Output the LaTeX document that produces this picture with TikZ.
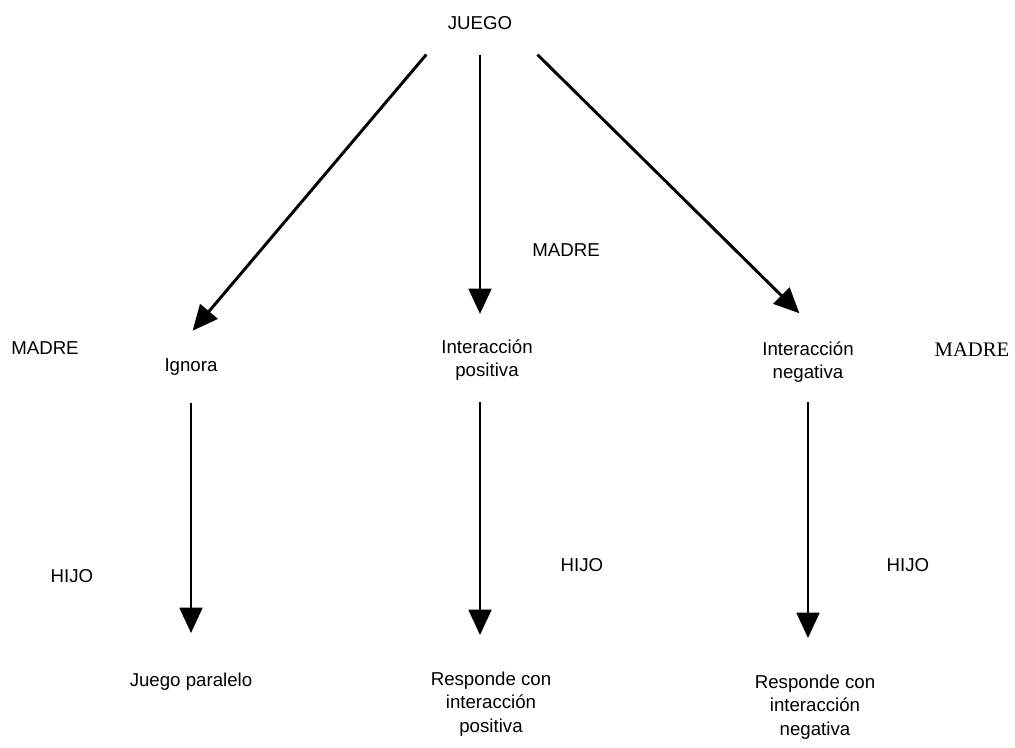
\documentclass[tikz,border=0pt]{standalone}
\usepackage{fontspec}
\setmainfont{Liberation Sans}
\newfontfamily\timesfont{Liberation Serif}
\usetikzlibrary{arrows.meta}

\begin{document}
\begin{tikzpicture}[x=0.75pt,
            y=-0.75pt,
            >={Triangle[length=19pt,width=17pt]},
            every node/.style={inner sep=2pt,font=\fontsize{14}{17.5}\selectfont},
            txt/.style={align=center},
            arr/.style={->,line width=2.2pt}]

        \useasboundingbox (0,0) rectangle (1015,747);

        % nodos
        \node (juego)    at (480,23)  {JUEGO};
        \node (ignora)   at (191,367) {Ignora};
        \node[txt] (intpos)   at (487,360) {Interacción\\positiva};
        \node[txt] (intneg)   at (808,362) {Interacción\\negativa};
        \node (paralelo) at (191,682) {Juego paralelo};
        \node[txt] (resppos)  at (491,704) {Responde con\\interacción\\positiva};
        \node[txt] (respneg)  at (815,707) {Responde con\\interacción\\negativa};

        % etiquetas
        \node (madreA) at (45,348)  {MADRE};
        \node (madreB) at (566,250) {MADRE};
        \node[font=\fontsize{15.5}{18}\timesfont] (madreC) at (972,350) {MADRE};
        \node (hijoA)  at (72,576)  {HIJO};
        \node (hijoB)  at (582,565) {HIJO};
        \node (hijoC)  at (908,565) {HIJO};

        % flechas
        \draw[arr,shorten <=21.6pt,shorten >=24.6pt] (juego.south west) -- (ignora.150);
        \draw[arr,shorten <=16.5pt,shorten >=17pt]   (juego.south) -- (juego.south |- intpos.north);
        \draw[arr,shorten <=23.6pt,shorten >=27pt]   (juego.south east) -- (intneg.54);

        \draw[arr,shorten <=18.3pt,shorten >=28pt]   (ignora.south) -- (paralelo.north);
        \draw[arr,shorten <=14pt,shorten >=25.5pt]   (intpos.south -| juego.south) -- (resppos.north -| juego.south);
        \draw[arr,shorten <=12.8pt,shorten >=25.5pt] (intneg.south) -- (intneg.south |- respneg.north);

\end{tikzpicture}
\end{document}
